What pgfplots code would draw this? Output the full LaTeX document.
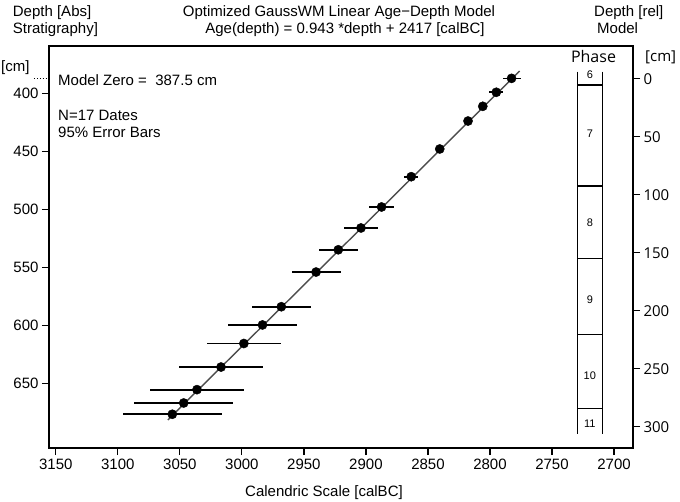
\documentclass[border=0pt]{standalone}
\usepackage{fontspec}
\setmainfont{Liberation Sans}
\newfontfamily\osans{Open Sans}
\usepackage{pgfplots}
\usepackage{pgfplotstable}
\pgfplotsset{compat=1.18}
\newcommand\f{\fontsize{15}{18}\selectfont}
\pgfplotstableread{
age depth err
2782.6 387.1 7.3
2794.9 399.1 5.7
2805.8 411.2 3.0
2817.7 423.9 3.0
2840.5 448.0 3.0
2863.5 471.9 5.7
2887.4 498.0 10.0
2904.0 516.1 13.9
2922.3 534.9 15.7
2940.2 554.1 19.7
2968.2 584.0 23.9
2983.4 599.7 27.8
2998.4 615.7 29.8
3016.8 636.0 33.7
3036.2 655.5 37.8
3046.9 667.0 39.7
3056.1 676.7 39.8
}\dates
\begin{document}
\begin{tikzpicture}
\useasboundingbox (0,0) rectangle (680pt,502pt);
\begin{axis}[
  at={(49pt,54pt)}, anchor=south west,
  scale only axis, width=584pt, height=402pt,
  x dir=reverse, y dir=reverse,
  xmin=2684.7, xmax=3155.5, ymin=359.2, ymax=705.8,
  xtick={2700,2750,...,3150}, ytick={400,450,...,650},
  tick align=outside, xtick pos=bottom, ytick pos=left,
  major tick length=7pt,
  tick style={black, line width=1.2pt},
  axis line style={black, line width=1.5pt},
  /pgf/number format/1000 sep={},
  /pgf/number format/assume math mode=true,
  tick label style={font=\f},
  clip=false,
]
% regression line
\addplot[color=black!70, line width=1.4pt] coordinates {(2776.1,380.8) (3059.7,681.6)};
% dates with 95% error bars
\addplot[only marks, mark=*, mark size=4.6pt, black,
  error bars/.cd, x dir=both, x explicit, error mark=none,
  error bar style={line width=1.7pt, black}]
  table[x=age, y=depth, x error=err] {\dates};
% phase column
\addplot[black, line width=1.5pt] coordinates {(2729.6,381.4) (2729.6,693.7)};
\addplot[black, line width=1.5pt] coordinates {(2709.4,381.4) (2709.4,693.7)};
\addplot[black, line width=1.5pt] coordinates {(2729.6,392.8) (2709.4,392.8)};
\addplot[black, line width=1.5pt] coordinates {(2729.6,479.9) (2709.4,479.9)};
\addplot[black, line width=1.5pt] coordinates {(2729.6,542.6) (2709.4,542.6)};
\addplot[black, line width=1.5pt] coordinates {(2729.6,608.1) (2709.4,608.1)};
\addplot[black, line width=1.5pt] coordinates {(2729.6,671.9) (2709.4,671.9)};
% model zero marker
\addplot[black, dotted, line width=0.9pt] coordinates {(3167.6,387.5) (3157.1,387.5)};
\node[font=\fontsize{11}{12}\selectfont] at (axis cs:2719.5,384.2) {6};
\node[font=\fontsize{11}{12}\selectfont] at (axis cs:2719.5,435.1) {7};
\node[font=\fontsize{11}{12}\selectfont] at (axis cs:2719.5,511.8) {8};
\node[font=\fontsize{11}{12}\selectfont] at (axis cs:2719.5,578.2) {9};
\node[font=\fontsize{11}{12}\selectfont] at (axis cs:2719.5,643.7) {10};
\node[font=\fontsize{11}{12}\selectfont] at (axis cs:2719.5,685.1) {11};
\end{axis}
\begin{axis}[
  at={(49pt,54pt)}, anchor=south west,
  scale only axis, width=584pt, height=402pt,
  y dir=reverse, ymin=-28.3, ymax=318.3,
  xmin=0, xmax=1,
  hide x axis, axis y line*=right,
  ytick={0,50,...,300},
  tick align=outside, major tick length=7pt,
  tick style={black, line width=1.2pt},
  axis line style={black, line width=1.5pt},
  /pgf/number format/assume math mode=true,
  tick label style={font=\osans\fontsize{15}{18}\selectfont},
]
\addplot[draw=none] coordinates {(0,0)};
\end{axis}
% texts
\begin{scope}[every node/.style={inner sep=0pt}]
\node[anchor=base west, font=\f] at (12.7pt,485.3pt) {Depth [Abs]};
\node[anchor=base west, font=\f] at (12.7pt,468.7pt) {Stratigraphy]};
\node[anchor=base, font=\f] at (339pt,485.3pt) {Optimized GaussWM Linear Age−Depth Model};
\node[anchor=base, font=\f] at (345pt,468.7pt) {Age(depth) = 0.943 *depth + 2417 [calBC]};
\node[anchor=base west, font=\f] at (594pt,485.3pt) {Depth [rel]};
\node[anchor=base west, font=\f] at (597pt,468.7pt) {Model};
\node[anchor=base west, font=\f] at (1pt,430pt) {[cm]};
\node[anchor=base west, font=\osans\fontsize{15}{18}\selectfont] at (645pt,440.3pt) {[cm]};
\node[anchor=base, font=\osans\fontsize{16}{18}\selectfont] at (593.5pt,439.7pt) {Phase};
\node[anchor=base west, font=\f] at (58pt,416pt) {Model Zero =\ \ 387.5 cm};
\node[anchor=base west, font=\f] at (58pt,381.3pt) {N=17 Dates};
\node[anchor=base west, font=\f] at (58pt,364.7pt) {95\% Error Bars};
\node[anchor=base, font=\f] at (324pt,5pt) {Calendric Scale [calBC]};
\end{scope}
\end{tikzpicture}
\end{document}
